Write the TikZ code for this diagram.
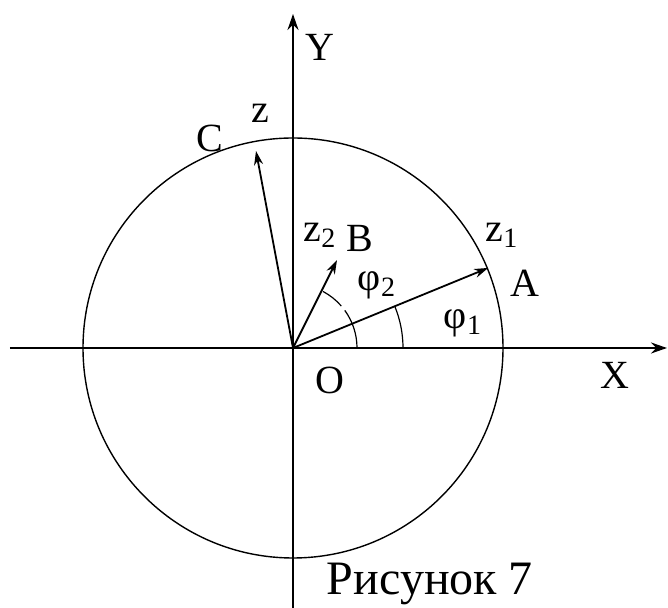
\documentclass[tikz,border=0pt]{standalone}
\usepackage{fontspec}
\setmainfont{Liberation Serif}
\usetikzlibrary{arrows.meta}

\tikzset{
  axis/.style={line width=1.1pt, -{Stealth[length=8pt,width=5.5pt]}},
  vec/.style={line width=0.9pt, -{Stealth[length=7pt,width=4.5pt]}},
  lbl/.style={font=\fontsize{20}{22}\selectfont},
}

\begin{document}
\begin{tikzpicture}[x=0.5pt,y=0.5pt]
\useasboundingbox (-293,-260) rectangle (375,348);

% points
\coordinate (O) at (0,0);
\coordinate (A) at (22.3:211);
\coordinate (B) at (44,88);
\coordinate (C) at (-37,197);
\coordinate (xl) at (-283,0);
\coordinate (xr) at (374,0);
\coordinate (yb) at (0,-260);
\coordinate (yt) at (0,334);

% axes
\draw[axis] (xl) -- (xr);
\draw[axis] (yb) -- (yt);

% circle
\draw[line width=0.7pt] (O) circle (210);

% vectors
\draw[vec] (O) -- (A);
\draw[vec] (O) -- (B);
\draw[vec] (O) -- (C);

% angles
\draw[line width=0.6pt] (62:64) arc (62:41:64);
\draw[line width=0.6pt] (36:64) arc (36:0:64);
\draw[line width=0.6pt] (22.3:110) arc (22.3:0:110);

% labels
\node[lbl] (ly) at (27,301) {Y};
\node[lbl] (lx) at (322,-27) {X};
\node[lbl] (lo) at (37,-32) {O};
\node[lbl] (lc) at (-83,210) {C};
\node[lbl] (lz) at (-33,235) {z};
\node[lbl] (lzb) at (27,113) {z\textsubscript{2}};
\node[lbl] (lb) at (67,110) {B};
\node[lbl] (lza) at (209,113) {z\textsubscript{1}};
\node[lbl] (la) at (232,65) {A};
\node[lbl] (lf2) at (84,63) {φ\textsubscript{2}};
\node[lbl] (lf1) at (170,25) {φ\textsubscript{1}};
\node[font=\fontsize{24}{26}\selectfont, anchor=base] (cap) at (137,-247) {Рисунок 7};

\end{tikzpicture}
\end{document}
